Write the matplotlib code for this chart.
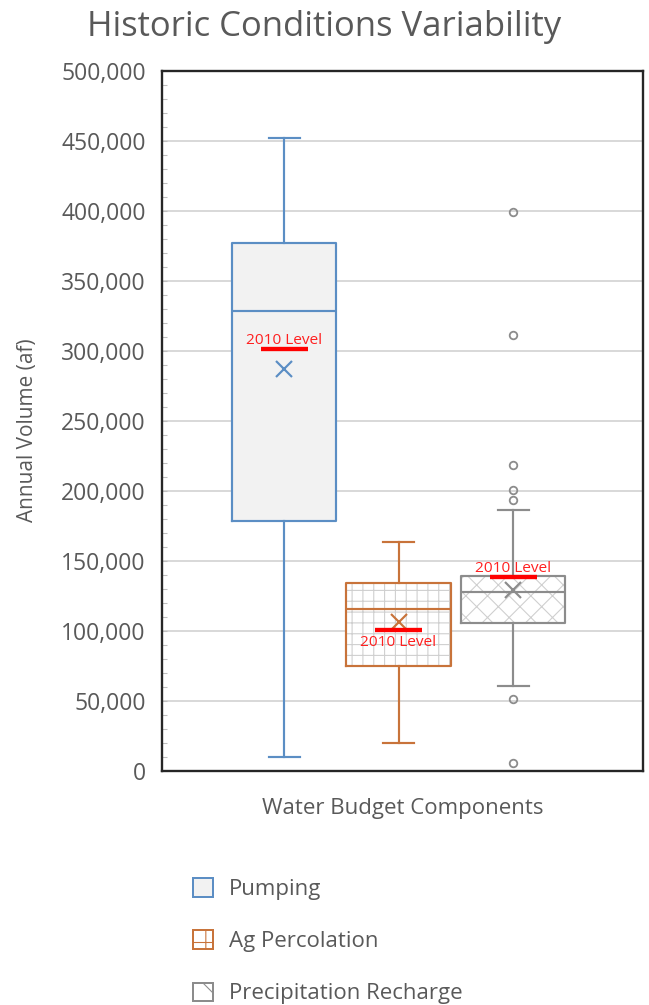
""" Box plot of historic water budget variability """
import matplotlib
matplotlib.use("Agg")
import matplotlib.pyplot as plt
from matplotlib.patches import Patch
from matplotlib.ticker import FuncFormatter, MultipleLocator

# --- data ---
components = ["Pumping", "Ag Percolation", "Precipitation Recharge"]
q1 = [178600, 75000, 105700]
median = [328600, 115700, 127900]
q3 = [377100, 134300, 139300]
whisker_lo = [10000, 20000, 60700]
whisker_hi = [452100, 163600, 186400]
means = [287100, 106400, 129300]
level_2010 = [301400, 100700, 138600]
outliers = [[], [], [399300, 311400, 218600, 200700, 193600, 51400, 5700]]

edge_colors = ["#5b8ec4", "#c8733a", "#8c8c8c"]
face_colors = ["#f2f2f2", "white", "white"]
hatches = [None, "++", "xx"]
hatch_color = "#cfcfcf"
text_gray = "#595959"

DPI = 130
plt.rcParams["font.family"] = ["Open Sans", "DejaVu Sans"]
plt.rcParams["hatch.linewidth"] = 0.6

fig = plt.figure(figsize=(649 / DPI, 1005 / DPI), dpi=DPI)
ax = fig.add_axes([162 / 649, 234 / 1005, 481 / 649, 700 / 1005])

positions = [1, 2, 3]
stats = []
for i, name in enumerate(components):
    stats.append(dict(label=name, q1=q1[i], med=median[i], q3=q3[i],
                      whislo=whisker_lo[i], whishi=whisker_hi[i],
                      mean=means[i], fliers=outliers[i]))

# first pass: filled boxes with a light hatch
fill = ax.bxp(stats, positions=positions, widths=0.91, patch_artist=True,
              showcaps=False, showfliers=False, showmeans=False,
              boxprops=dict(linewidth=0),
              whiskerprops=dict(linewidth=0),
              medianprops=dict(linewidth=0))
for i, box in enumerate(fill["boxes"]):
    box.set_facecolor(face_colors[i])
    box.set_edgecolor(hatch_color)
    box.set_zorder(2)
    if hatches[i]:
        box.set_hatch(hatches[i])

# second pass: outlines, whiskers, medians, means, outliers
lw = 1.2
art = ax.bxp(stats, positions=positions, widths=0.91, capwidths=0.27,
             patch_artist=False, showmeans=True, showfliers=True,
             meanprops=dict(marker="x", markersize=9, markeredgewidth=1.2),
             flierprops=dict(marker="o", markersize=4.2, markerfacecolor="none",
                             markeredgewidth=1.0))
for i, c in enumerate(edge_colors):
    art["boxes"][i].set(color=c, linewidth=lw, zorder=3)
    art["medians"][i].set(color=c, linewidth=lw, zorder=3)
    art["means"][i].set(markeredgecolor=c, zorder=4)
    art["fliers"][i].set(markeredgecolor=c, zorder=3)
    for ln in art["whiskers"][2 * i:2 * i + 2] + art["caps"][2 * i:2 * i + 2]:
        ln.set(color=c, linewidth=lw, zorder=3)

# 2010 level markers
ax.hlines(level_2010, [p - 0.205 for p in positions], [p + 0.205 for p in positions],
          colors="#ff0000", linewidth=2.4, zorder=5)
for i, p in enumerate(positions):
    below = level_2010[i] < means[i]
    ax.annotate("2010 Level", (p, level_2010[i]),
                xytext=(0, -2.5 if below else 0.5), textcoords="offset points",
                ha="center", va="top" if below else "bottom",
                color="#ff2020", fontsize=8.5, zorder=6)

ax.set_xlim(-0.066, 4.135)
ax.set_ylim(0, 500000)
ax.set_xticks([])
ax.yaxis.set_major_locator(MultipleLocator(50000))
ax.yaxis.set_minor_locator(MultipleLocator(10000))
ax.yaxis.set_major_formatter(FuncFormatter(lambda v, _: f"{int(v):,}"))
ax.tick_params(axis="y", which="major", direction="in", length=2.5, width=0.6,
               color="#bfbfbf", labelsize=12.7, labelcolor=text_gray, pad=9)
ax.tick_params(axis="y", which="minor", direction="in", length=2.5, width=0.6,
               color="#bfbfbf")
ax.grid(axis="y", which="major", color="#d9d9d9", linewidth=1.1, zorder=0)
ax.set_axisbelow(True)
for s in ax.spines.values():
    s.set_color("#262626")
    s.set_linewidth(1.3)

ax.set_ylabel("Annual Volume (af)", fontsize=11.5, color=text_gray)
ax.yaxis.set_label_coords(-0.258, 0.487)
ax.set_xlabel("Water Budget Components", fontsize=12.3, color=text_gray, labelpad=15)
fig.suptitle("Historic Conditions Variability", x=0.5, y=0.99, va="top",
             fontsize=19.2, color=text_gray)

handles = [Patch(facecolor=face_colors[i], edgecolor=edge_colors[i],
                 hatch=hatches[i] and hatches[i][0], linewidth=1.1)
           for i in range(len(components))]
fig.legend(handles, components, loc="upper left", bbox_to_anchor=(0.298, 0.126),
           frameon=False, fontsize=12.3, labelcolor=text_gray,
           handlelength=0.9, handleheight=0.9, handletextpad=0.7,
           labelspacing=1.36, borderpad=0, borderaxespad=0)

fig.savefig("out.png", dpi=DPI)
